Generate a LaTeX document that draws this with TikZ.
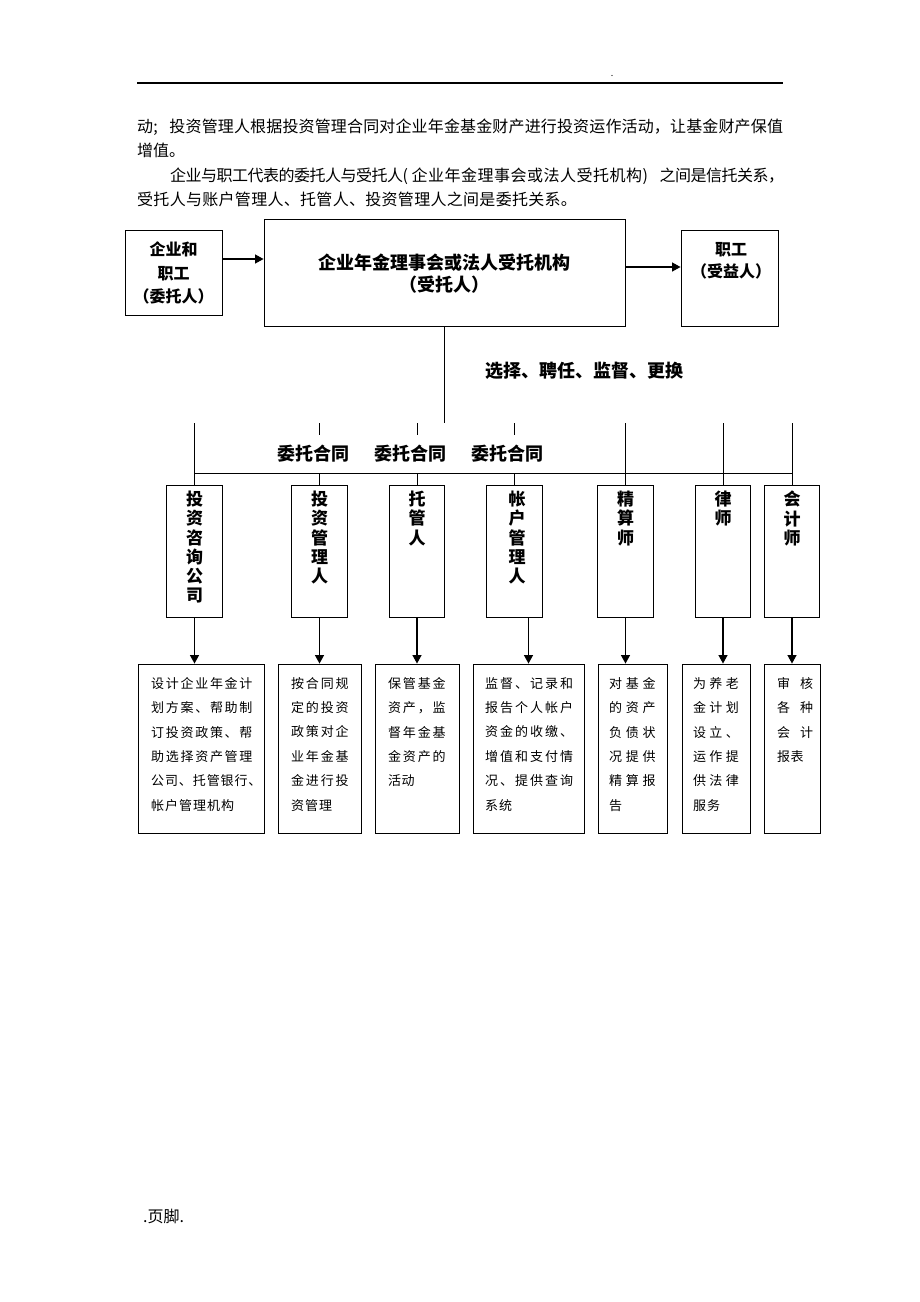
\documentclass[tikz,border=0pt]{standalone}
\usepackage{fontspec}
\setmainfont{Noto Sans CJK SC}
\usetikzlibrary{arrows.meta}
\makeatletter
\newcommand\sprdpitch{}
\newcommand\sprd[2]{\def\sprdpitch{#1}\sprd@aux#2\relax}
\def\sprd@aux#1{\ifx#1\relax\else\makebox[\sprdpitch][l]{#1}\expandafter\sprd@aux\fi}
\makeatother
\begin{document}
\begin{tikzpicture}[x=1pt,y=-1pt,
  boxs/.style={draw=black, line width=0.9pt, inner sep=0pt, fill=white},
  midbox/.style={boxs, minimum width=55.5pt, minimum height=132pt},
  lowbox/.style={boxs, minimum height=169pt},
  conn/.style={line width=0.9pt},
  arr/.style={line width=1.2pt, -{Triangle[length=8.5pt,width=9pt]}},
  para/.style={inner sep=0pt, anchor=west, font=\fontsize{16}{20}\selectfont},
  bold/.style={inner sep=0pt, font=\fontsize{17}{19.2}\selectfont\bfseries, align=center},
  lowtxt/.style={inner sep=0pt, anchor=north west, align=left, font=\fontsize{13}{24.4}\selectfont}]
\useasboundingbox (0,0) rectangle (920,1302);
\fill[white] (0,0) rectangle (920,1302);

% header rule and paragraph
\coordinate (rl) at (137,83);
\coordinate (rr) at (783,83);
\draw[line width=1.1pt] (rl) -- (rr);
\node[inner sep=0pt, font=\fontsize{9}{9}\selectfont] (hdot) at (612,76) {.};
\node[para] (p1) at (137,127) {\sprd{16.15pt}{动;投资管理人根据投资管理合同对企业年金基金财产进行投资运作活动，让基金财产保值}};
\node[para] (p2) at (137,150) {\sprd{16pt}{增值。}};
\node[para] (p3) at (170,176) {\sprd{15.5pt}{企业与职工代表的委托人与受托人}\makebox[9pt][l]{(}\sprd{16.5pt}{企业年金理事会或法人受托机构}\makebox[17pt][l]{)}\sprd{15.5pt}{之间是信托关系，}};
\node[para] (p4) at (137,199) {\sprd{16.3pt}{受托人与账户管理人、托管人、投资管理人之间是委托关系。}};

% top row
\node[boxs, minimum width=97pt, minimum height=85pt] (wt) at (173.5,272.5) {};
\node[boxs, minimum width=361pt, minimum height=107pt] (tr) at (444.5,272.5) {};
\node[boxs, minimum width=97pt, minimum height=96pt] (bn) at (729.5,278) {};
\node[bold, font=\fontsize{16}{23.5}\selectfont\bfseries] (wtt) at (173.5,273) {企业和\\职工\\（委托人）};
\node[bold, font=\fontsize{18}{22}\selectfont\bfseries] (trt) at (444.5,274) {企业年金理事会或法人受托机构\\（受托人）};
\node[bold, font=\fontsize{16}{22}\selectfont\bfseries] (bnt) at (731,261) {职工\\（受益人）};
\coordinate (yA) at (0,259);
\coordinate (yB) at (0,267);
\draw[arr] (wt.east |- yA) -- (tr.west |- yA);
\draw[arr] (tr.east |- yB) -- (bn.west |- yB);

% trunk
\coordinate (hub) at (444.5,423);
\draw[conn] (tr.south) -- (hub);
\node[bold, font=\fontsize{18}{20}\selectfont\bfseries] (sel) at (584,371) {选择、聘任、监督、更换};

% middle boxes
\node[midbox] (m1) at (194.5,551) {};
\node[midbox] (m2) at (319.5,551) {};
\node[midbox] (m3) at (417,551) {};
\node[midbox] (m4) at (514.5,551) {};
\node[midbox] (m5) at (625.5,551) {};
\node[midbox] (m6) at (723,551) {};
\node[midbox] (m7) at (792,551) {};
\node[bold, anchor=north] (t1) at (194.5,491) {投\\资\\咨\\询\\公\\司};
\node[bold, anchor=north] (t2) at (319.5,491) {投\\资\\管\\理\\人};
\node[bold, anchor=north] (t3) at (417,491) {托\\管\\人};
\node[bold, anchor=north] (t4) at (517,491) {帐\\户\\管\\理\\人};
\node[bold, anchor=north] (t5) at (625.5,491) {精\\算\\师};
\node[bold, anchor=north] (t6) at (723,491) {律\\师};
\node[bold, anchor=north] (t7) at (792,491) {会\\计\\师};

% distribution lines
\coordinate (yT) at (0,423);
\coordinate (yK) at (0,435);
\coordinate (yH) at (0,473);
\draw[conn] (m1.north |- yT) -- (m1.north);
\draw[conn] (m5.north |- yT) -- (m5.north);
\draw[conn] (m6.north |- yT) -- (m6.north);
\draw[conn] (m7.north |- yT) -- (m7.north);
\draw[conn] (m1.north |- yH) -- (m7.north |- yH);
\foreach \m in {m2,m3,m4}{
  \draw[conn] (\m.north |- yT) -- (\m.north |- yK);
  \draw[conn] (\m.north |- yH) -- (\m.north);
}
\node[bold, font=\fontsize{18}{20}\selectfont\bfseries] (c1) at (313,454) {委托合同};
\node[bold, font=\fontsize{18}{20}\selectfont\bfseries] (c2) at (410,454) {委托合同};
\node[bold, font=\fontsize{18}{20}\selectfont\bfseries] (c3) at (507,454) {委托合同};

% lower boxes
\node[lowbox, minimum width=126pt] (l1) at (201,748.5) {};
\node[lowbox, minimum width=83pt] (l2) at (319.5,748.5) {};
\node[lowbox, minimum width=84pt] (l3) at (417,748.5) {};
\node[lowbox, minimum width=111pt] (l4) at (528.5,748.5) {};
\node[lowbox, minimum width=69pt] (l5) at (632.5,748.5) {};
\node[lowbox, minimum width=68pt] (l6) at (716,748.5) {};
\node[lowbox, minimum width=56pt] (l7) at (792,748.5) {};

\draw[arr] (m1.south) -- (m1.south |- l1.north);
\draw[arr] (m2.south) -- (m2.south |- l2.north);
\draw[arr] (m3.south) -- (m3.south |- l3.north);
\draw[arr] (l4.north |- m4.south) -- (l4.north);
\draw[arr] (m5.south) -- (m5.south |- l5.north);
\draw[arr] (m6.south) -- (m6.south |- l6.north);
\draw[arr] (m7.south) -- (m7.south |- l7.north);

\node[lowtxt] (d1) at (151,677) {\sprd{14.7pt}{设计企业年金计}\\\sprd{14.7pt}{划方案、帮助制}\\\sprd{14.7pt}{订投资政策、帮}\\\sprd{14.7pt}{助选择资产管理}\\\sprd{13.9pt}{公司、托管银行、}\\\sprd{14pt}{帐户管理机构}};
\node[lowtxt] (d2) at (291,677) {\sprd{14.8pt}{按合同规}\\\sprd{14.8pt}{定的投资}\\\sprd{14.8pt}{政策对企}\\\sprd{14.8pt}{业年金基}\\\sprd{14.8pt}{金进行投}\\\sprd{14pt}{资管理}};
\node[lowtxt] (d3) at (388,677) {\sprd{14.8pt}{保管基金}\\\sprd{14.8pt}{资产，监}\\\sprd{14.8pt}{督年金基}\\\sprd{14.8pt}{金资产的}\\\sprd{13.5pt}{活动}};
\node[lowtxt] (d4) at (485,677) {\sprd{15pt}{监督、记录和}\\\sprd{15pt}{报告个人帐户}\\\sprd{15pt}{资金的收缴、}\\\sprd{15pt}{增值和支付情}\\\sprd{15pt}{况、提供查询}\\\sprd{14pt}{系统}};
\node[lowtxt] (d5) at (609,677) {\sprd{16.7pt}{对基金}\\\sprd{16.7pt}{的资产}\\\sprd{16.7pt}{负债状}\\\sprd{16.7pt}{况提供}\\\sprd{16.7pt}{精算报}\\\sprd{16.7pt}{告}};
\node[lowtxt] (d6) at (693,677) {\sprd{16.3pt}{为养老}\\\sprd{16.3pt}{金计划}\\\sprd{16.3pt}{设立、}\\\sprd{16.3pt}{运作提}\\\sprd{16.3pt}{供法律}\\\sprd{14pt}{服务}};
\node[lowtxt] (d7) at (777,677) {\sprd{23pt}{审核}\\\sprd{23pt}{各种}\\\sprd{23pt}{会计}\\\sprd{13.5pt}{报表}};

% footer
\node[para] (ft) at (143,1216) {.页脚.};
\end{tikzpicture}
\end{document}
